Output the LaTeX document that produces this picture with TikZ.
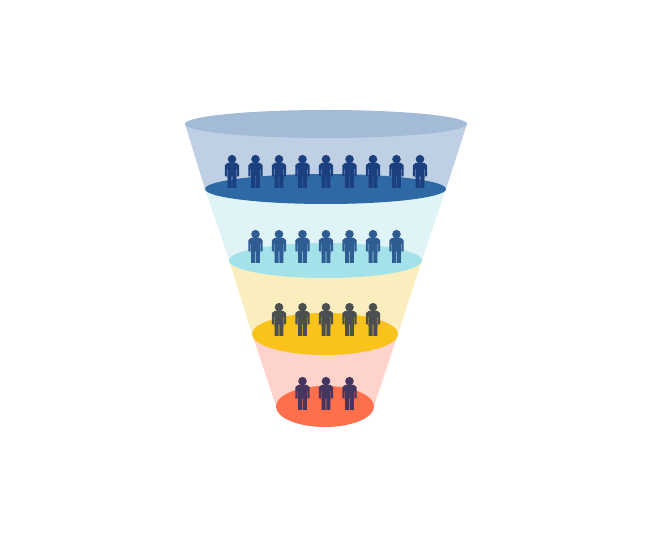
\documentclass[tikz,border=0pt]{standalone}
\definecolor{topcone}{RGB}{192, 208, 228}
\definecolor{toprim}{RGB}{163, 187, 214}
\definecolor{topdisc}{RGB}{46, 105, 166}
\definecolor{topman}{RGB}{26, 64, 128}
\definecolor{tealcone}{RGB}{224, 244, 247}
\definecolor{tealdisc}{RGB}{162, 226, 232}
\definecolor{tealman}{RGB}{47, 92, 147}
\definecolor{sandcone}{RGB}{251, 238, 190}
\definecolor{sanddisc}{RGB}{250, 195, 27}
\definecolor{sandman}{RGB}{76, 79, 80}
\definecolor{redcone}{RGB}{253, 211, 203}
\definecolor{reddisc}{RGB}{255, 111, 75}
\definecolor{redman}{RGB}{68, 54, 95}
\tikzset{
	man/.pic={
		\fill (0,-28.8) circle (4.3);
		% shoulders, arms and trunk in one outline
		\fill (-4.5,-25) -- (4.5,-25) -- (7.2,-22.8) -- (7.2,-11.5) -- (5.2,-11.5) -- (5.2,-19)
			-- (4.7,-19) -- (4.3,0) -- (0.4,0) -- (0.4,-11.5) -- (-0.4,-11.5) -- (-0.4,0)
			-- (-4.3,0) -- (-4.7,-19) -- (-5.2,-19) -- (-5.2,-11.5) -- (-7.2,-11.5) -- (-7.2,-22.8) -- cycle;
	}
}
\begin{document}
\begin{tikzpicture}[x=1pt,y=-1pt]
	\useasboundingbox (0,0) rectangle (651,537);
	% Cones
	\fill[redcone] (252,334) -- (398,334) -- (374,406) -- (276,406) -- cycle;
	\fill[sandcone] (229,260) -- (422,260) -- (398,334) -- (252,334) -- cycle;
	\fill[tealcone] (205,189) -- (446,189) -- (422,260) -- (229,260) -- cycle;
	\fill[topcone] (185,124) -- (467,124) -- (446,189) -- (205,189) -- cycle;
	% Discs
	\fill[toprim] (326,124) ellipse (141 and 14);
	\fill[topdisc] (325.5,189) ellipse (120.5 and 15);
	\fill[tealdisc] (325.5,260.5) ellipse (96.5 and 17.5);
	\fill[sanddisc] (325,334) ellipse (73 and 21);
	\fill[reddisc] (325,406.5) ellipse (49 and 20.5);
	% Rows of men
	\foreach \i in {-4,...,4} {
		\pic[topman] at (326+\i*23.5,188) {man};
	}
	\foreach \i in {-3,...,3} {
		\pic[tealman] at (326+\i*23.5,263) {man};
	}
	\foreach \i in {-2,...,2} {
		\pic[sandman] at (326+\i*23.5,336) {man};
	}
	\foreach \i in {-1,0,1} {
		\pic[redman] at (326+\i*23.5,410) {man};
	}
\end{tikzpicture}
\end{document}
